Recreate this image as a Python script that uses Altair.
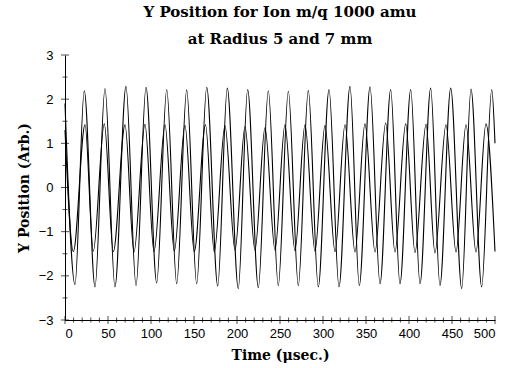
import altair as alt
import pandas as pd

# Extrema (time in microseconds, Y position in arb. units)
t_r7 = [0.0, 11.6, 22.4, 34.9, 46.5, 58.1, 70.9, 82.6, 94.2, 106.6, 118.3, 129.9,
        141.5, 153.1, 164.8, 177.6, 188.7, 201.5, 212.4, 224.8, 236.4, 248.0,
        259.7, 271.3, 282.9, 294.5, 307.0, 318.6, 331.4, 342.2, 354.7, 366.3,
        378.7, 389.5, 402.0, 412.8, 425.2, 436.0, 448.5, 461.3, 472.1, 484.5,
        496.2, 500.0]
y_r7 = [1.90, -2.20, 2.19, -2.25, 2.24, -2.25, 2.29, -2.22, 2.27, -2.16, 2.22, -2.18,
        2.21, -2.18, 2.27, -2.23, 2.25, -2.29, 2.22, -2.27, 2.19, -2.22,
        2.18, -2.22, 2.20, -2.25, 2.22, -2.25, 2.29, -2.22, 2.28, -2.18,
        2.22, -2.18, 2.22, -2.18, 2.25, -2.22, 2.25, -2.29, 2.23, -2.25,
        2.22, 1.00]

t_r5 = [0.0, 9.7, 23.3, 32.9, 45.7, 56.2, 69.8, 80.2, 93.0, 103.5, 116.3, 127.1,
        139.5, 150.3, 163.4, 173.6, 186.0, 197.7, 209.3, 220.9, 232.6, 244.2,
        255.8, 267.4, 279.1, 290.7, 302.3, 314.0, 325.6, 337.2, 348.8, 360.5,
        372.9, 383.7, 396.2, 407.0, 419.8, 430.2, 443.0, 454.7, 466.3, 477.9,
        489.5, 500.0]
y_r5 = [1.30, -1.45, 1.42, -1.44, 1.44, -1.45, 1.42, -1.46, 1.43, -1.45, 1.42, -1.44,
        1.41, -1.45, 1.42, -1.46, 1.40, -1.42, 1.38, -1.42, 1.36, -1.42,
        1.42, -1.43, 1.42, -1.44, 1.40, -1.45, 1.42, -1.46, 1.44, -1.46,
        1.46, -1.46, 1.44, -1.47, 1.43, -1.48, 1.42, -1.46, 1.42, -1.46,
        1.44, -1.45]

x_major = [0, 50, 100, 150, 200, 250, 300, 350, 400, 450, 500]
x_minor = [v for v in range(0, 501, 10) if v % 50 != 0]
y_major = [-3, -2, -1, 0, 1, 2, 3]
y_minor = [-2.5, -1.5, -0.5, 0.5, 1.5, 2.5]

title_lines = ["Y Position for Ion m/q 1000 amu", "at Radius 5 and 7 mm"]

df = pd.concat([
    pd.DataFrame({"t": t_r7, "y": y_r7, "radius": "7 mm"}),
    pd.DataFrame({"t": t_r5, "y": y_r5, "radius": "5 mm"}),
])

xs = alt.Scale(domain=[0, 500], nice=False)
ys = alt.Scale(domain=[-3, 3], nice=False)

xaxis = alt.Axis(values=x_major, ticks=False, tickSize=0, labelPadding=7, grid=False,
                 title="Time (\u03bcsec.)", titlePadding=8)
yaxis = alt.Axis(values=y_major, ticks=False, tickSize=0, labelPadding=12, grid=False,
                 title="Y Position (Arb.)", titlePadding=7)

lines = alt.Chart(df).mark_line(interpolate="monotone", color="#000000", strokeWidth=1.1).encode(
    x=alt.X("t:Q", scale=xs, axis=xaxis),
    y=alt.Y("y:Q", scale=ys, axis=yaxis),
    detail="radius:N",
)

xmaj = alt.Chart(pd.DataFrame({"v": x_major})).mark_tick(
    orient="vertical", size=8, thickness=1, color="#000000").encode(
    x=alt.X("v:Q", scale=xs), y=alt.datum(-3, scale=ys))
xmin = alt.Chart(pd.DataFrame({"v": x_minor})).mark_tick(
    orient="vertical", size=5, thickness=1, color="#000000").encode(
    x=alt.X("v:Q", scale=xs), y=alt.datum(-3, scale=ys))
ymaj = alt.Chart(pd.DataFrame({"v": y_major})).mark_tick(
    orient="horizontal", size=8, thickness=1, color="#000000").encode(
    y=alt.Y("v:Q", scale=ys), x=alt.datum(0, scale=xs))
ymin = alt.Chart(pd.DataFrame({"v": y_minor})).mark_tick(
    orient="horizontal", size=5, thickness=1, color="#000000").encode(
    y=alt.Y("v:Q", scale=ys), x=alt.datum(0, scale=xs))

chart = alt.layer(lines, xmaj, xmin, ymaj, ymin).properties(
    width=430,
    height=265,
    autosize="none",
    background="white",
    padding={"left": 65, "top": 55, "right": 15, "bottom": 48},
    title=alt.TitleParams(title_lines, font="DejaVu Serif", fontSize=15, fontWeight="bold",
                          color="#000000", lineHeight=27, offset=2, anchor="middle"),
).configure_view(stroke=None).configure_axis(
    grid=False,
    domainColor="#000000",
    domainWidth=1,
    labelFont="Liberation Sans",
    labelFontSize=13,
    labelColor="#000000",
    titleFont="DejaVu Serif",
    titleFontSize=14,
    titleFontWeight="bold",
    titleColor="#000000",
)

chart.save("out.html", embed_options={"renderer": "svg", "actions": False})
